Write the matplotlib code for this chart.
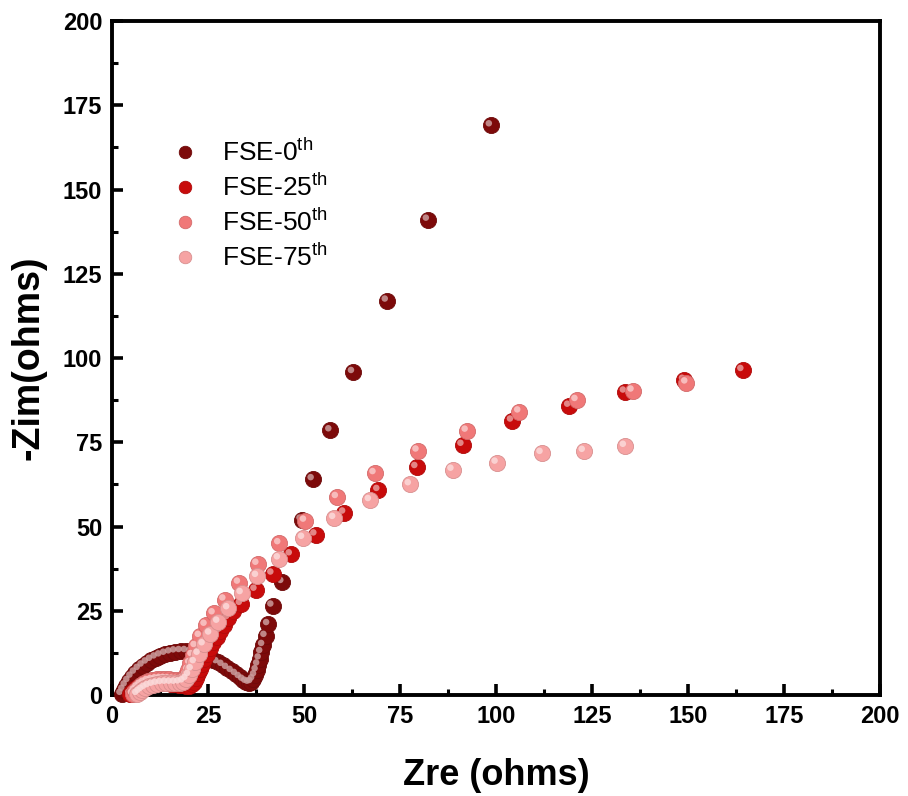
import matplotlib
matplotlib.use("Agg")
import matplotlib.pyplot as plt
import matplotlib.transforms as mtransforms
from matplotlib.lines import Line2D
import numpy as np

plt.rcParams['font.family'] = ['Liberation Sans', 'DejaVu Sans']
plt.rcParams['mathtext.fontset'] = 'custom'
plt.rcParams['mathtext.rm'] = 'Liberation Sans'
plt.rcParams['mathtext.it'] = 'Liberation Sans'

labels = ["FSE-0$^{\\mathrm{th}}$", "FSE-25$^{\\mathrm{th}}$", "FSE-50$^{\\mathrm{th}}$", "FSE-75$^{\\mathrm{th}}$"]
colors = ["#7d0a0a", "#c80b0b", "#f07878", "#f6a3a3"]

x_fse0 = [2.5, 3.0, 3.6, 4.3, 5.1, 6.0, 7.0, 8.0, 9.1, 10.2, 11.4, 12.6, 13.9, 15.2, 16.5, 17.9,
          19.3, 20.7, 22.1, 23.5, 24.9, 26.2, 27.5, 28.8, 30.0, 31.2, 32.3, 33.3, 34.2, 35.0, 35.7,
          36.3, 36.8, 37.3, 37.7, 38.1, 38.5, 38.9, 39.4, 40.0, 40.7, 41.8, 44.4, 49.4, 52.3, 56.9,
          62.8, 71.6, 82.3, 98.7]
y_fse0 = [0.3, 1.5, 2.8, 4.1, 5.4, 6.6, 7.7, 8.7, 9.6, 10.4, 11.1, 11.7, 12.2, 12.6, 12.9, 13.0,
          13.0, 12.8, 12.4, 11.9, 11.2, 10.5, 9.7, 8.9, 8.0, 7.1, 6.2, 5.3, 4.5, 3.9, 3.6,
          3.8, 4.6, 5.8, 7.3, 9.0, 10.8, 12.7, 14.8, 17.5, 21.0, 26.5, 33.5, 52.0, 64.0,
          78.5, 95.8, 117.0, 141.0, 169.0]

x_fse25 = [4.8, 5.3, 6.0, 6.8, 7.7, 8.7, 9.8, 10.9, 12.0, 13.1, 14.2, 15.3, 16.4, 17.4, 18.4, 19.3,
           20.1, 20.8, 21.4, 21.9, 22.4, 22.9, 23.4, 24.0, 24.7, 25.5, 26.4, 27.3, 28.2, 29.2, 30.3,
           31.5, 33.6, 37.4, 41.8, 46.6, 53.0, 60.5, 69.4, 79.3, 91.3, 104.2, 119.1, 133.6, 149.0, 164.2]
y_fse25 = [0.3, 1.0, 1.7, 2.3, 2.8, 3.1, 3.3, 3.4, 3.5, 3.5, 3.5, 3.4, 3.3, 3.1, 2.9, 2.8,
           2.8, 3.2, 4.0, 5.1, 6.4, 7.8, 9.3, 10.8, 12.3, 13.9, 15.6, 17.3, 19.0, 20.8, 22.8,
           25.0, 27.0, 31.2, 36.0, 41.7, 47.6, 54.1, 60.8, 67.6, 74.2, 81.4, 85.8, 90.0, 93.5, 96.4]

x_fse50 = [5.5, 6.0, 6.7, 7.5, 8.4, 9.4, 10.5, 11.6, 12.7, 13.8, 14.9, 16.0, 17.0, 18.0, 18.8, 19.4,
           19.9, 20.4, 21.0, 21.8, 22.9, 24.4, 26.5, 29.3, 33.1, 37.9, 43.6, 50.3, 58.6, 68.4, 79.6,
           92.4, 106.1, 121.0, 135.6, 149.6]
y_fse50 = [0.3, 1.3, 2.2, 3.0, 3.6, 4.1, 4.4, 4.6, 4.7, 4.7, 4.6, 4.5, 4.4, 4.4, 4.8, 5.8,
           7.4, 9.4, 11.8, 14.5, 17.5, 20.8, 24.2, 28.3, 33.3, 38.9, 45.0, 51.7, 58.7, 65.8, 72.5,
           78.4, 84.1, 87.5, 90.3, 92.7]

x_fse75 = [6.6, 7.2, 7.9, 8.7, 9.6, 10.6, 11.7, 12.9, 14.1, 15.3, 16.5, 17.6, 18.6, 19.4, 20.1, 20.8,
           21.6, 22.6, 23.9, 25.6, 27.7, 30.3, 33.8, 37.8, 43.5, 49.8, 57.9, 67.2, 77.6, 88.7, 100.2,
           111.9, 122.9, 133.6]
y_fse75 = [0.3, 0.9, 1.5, 2.1, 2.6, 3.0, 3.3, 3.5, 3.6, 3.6, 3.6, 3.7, 4.0, 4.7, 5.9, 7.6,
           9.7, 12.2, 15.0, 18.2, 21.7, 25.7, 30.2, 35.3, 40.5, 46.6, 52.5, 57.8, 62.5, 66.8, 68.9,
           71.8, 72.4, 73.9]

series_x = [x_fse0, x_fse25, x_fse50, x_fse75]
series_y = [y_fse0, y_fse25, y_fse50, y_fse75]
x_ticks = [0, 25, 50, 75, 100, 125, 150, 175, 200]
y_ticks = [0, 25, 50, 75, 100, 125, 150, 175, 200]


def lighten(c, f):
    rgb = np.array(matplotlib.colors.to_rgb(c))
    return tuple(rgb + (1 - rgb) * f)


def darken(c, f):
    rgb = np.array(matplotlib.colors.to_rgb(c))
    return tuple(rgb * (1 - f))


fig = plt.figure(figsize=(9.08, 7.96), dpi=100)
ax = fig.add_axes([112 / 908, 1 - 695 / 796, 768 / 908, 674 / 796])

hl_trans = mtransforms.offset_copy(ax.transData, fig=fig, x=-2.2, y=2.2, units='dots')
for xs, ys, c in zip(series_x, series_y, colors):
    ax.scatter(xs, ys, s=135, color=c, edgecolors=darken(c, 0.12), linewidths=0.6,
               zorder=3, clip_on=False)
    ax.scatter(xs, ys, s=22, color=lighten(c, 0.6), edgecolors='none', alpha=0.85,
               zorder=3, transform=hl_trans, clip_on=False)

ax.set_xlim(0, 200)
ax.set_ylim(0, 200)
ax.set_xticks(x_ticks)
ax.set_yticks(y_ticks)
ax.set_xticks(np.arange(12.5, 200, 25), minor=True)
ax.set_yticks(np.arange(12.5, 200, 25), minor=True)

tick_font = {'family': ['Liberation Sans Narrow', 'Liberation Sans', 'DejaVu Sans'],
             'weight': 'bold', 'size': 17}
ax.set_xticklabels([str(v) for v in x_ticks], fontdict=tick_font)
ax.set_yticklabels([str(v) for v in y_ticks], fontdict=tick_font)

ax.tick_params(which='major', direction='in', length=8, width=2.6, top=False, right=False, pad=7)
ax.tick_params(which='minor', direction='in', length=4, width=2.2, top=False, right=False)
for sp in ax.spines.values():
    sp.set_linewidth(2.8)

ax.set_xlabel("Zre (ohms)", fontsize=26, fontweight='bold', labelpad=22)
ax.set_ylabel("-Zim(ohms)", fontsize=27, fontweight='bold', labelpad=12)

handles = [Line2D([], [], linestyle='none', marker='o', markersize=9, markerfacecolor=c,
                  markeredgecolor=darken(c, 0.12), markeredgewidth=0.6) for c in colors]
leg = ax.legend(handles, labels, loc='upper left', bbox_to_anchor=(0.045, 0.86), frameon=False,
                fontsize=19, handletextpad=0.85, labelspacing=0.3, handlelength=1.1)

fig.savefig("out.png", dpi=100)
